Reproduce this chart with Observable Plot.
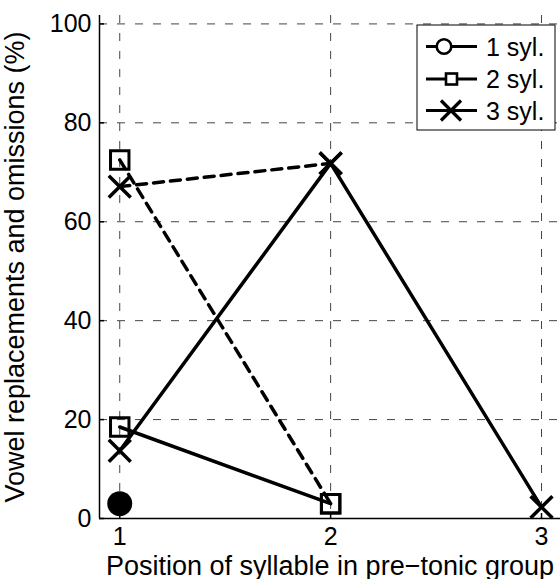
<!DOCTYPE html>
<html>
<head>
<meta charset="utf-8">
<script src="https://cdn.jsdelivr.net/npm/d3@7"></script>
<script src="https://cdn.jsdelivr.net/npm/@observablehq/plot@0.6"></script>
<style>
  html, body { margin: 0; padding: 0; background: white; }
  #wrap { position: relative; width: 560px; height: 579px; overflow: hidden; }
  #wrap svg { position: absolute; left: 0; top: 0; }
</style>
</head>
<body>
<div id="wrap"></div>
<script>
// ---- data ----
const positions = [1, 2, 3];
const syl1Points = [3];                 // 1 syl. (filled marker at position 1)
const syl2Solid = [18.5, 3];            // 2 syl., solid line
const syl2Dashed = [72.5, 3];           // 2 syl., dashed line
const syl3Solid = [13.7, 71.8, 2.3];    // 3 syl., solid line
const syl3Dashed = [67.1, 71.8];        // 3 syl., dashed line
const legendLabels = ["1 syl.", "2 syl.", "3 syl."];
const legendSymbols = ["circle", "square", "times"];
const xTicks = [1, 2, 3];
const yTicks = [0, 20, 40, 60, 80, 100];
const xLabel = "Position of syllable in pre\u2212tonic group";
const yLabel = "Vowel replacements and omissions (%)";

const toRows = (vals) => vals.map((v, i) => ({x: positions[i], y: v}));
const s1 = toRows(syl1Points);
const s2s = toRows(syl2Solid), s2d = toRows(syl2Dashed);
const s3s = toRows(syl3Solid), s3d = toRows(syl3Dashed);

const FONT = "'Liberation Sans', Arial, Helvetica, sans-serif";
const xDomain = [0.904, 3.09];
const yDomain = [0, 101.7];

const chart = Plot.plot({
  width: 560,
  height: 579,
  marginLeft: 99,
  marginRight: 0,
  marginTop: 15,
  marginBottom: 61,
  x: {domain: xDomain},
  y: {domain: yDomain},
  style: {fontFamily: FONT, fontSize: "25px", color: "black", background: "white", overflow: "visible"},
  marks: [
    Plot.gridX(xTicks, {stroke: "#444", strokeOpacity: 1, strokeWidth: 1, strokeDasharray: "8,10"}),
    Plot.gridY(yTicks, {stroke: "#444", strokeOpacity: 1, strokeWidth: 1, strokeDasharray: "8,10"}),
    Plot.ruleX([xDomain[0]], {stroke: "black", strokeWidth: 1.5}),
    Plot.ruleY([yDomain[0]], {stroke: "black", strokeWidth: 1.5}),
    Plot.axisX(xTicks, {tickSize: -5, tickPadding: 14, label: null, fontSize: 25, strokeWidth: 1.5, tickFormat: d3.format("d")}),
    Plot.axisY(yTicks, {tickSize: -5, tickPadding: 13, label: null, fontSize: 25, strokeWidth: 1.5, tickFormat: d3.format("d")}),
    Plot.text([xLabel], {frameAnchor: "bottom", lineAnchor: "middle", textAnchor: "middle", dy: 48, fontSize: 27, fill: "black"}),
    Plot.text([yLabel], {frameAnchor: "left", lineAnchor: "middle", textAnchor: "middle", rotate: -90, dx: -84, fontSize: 27, fill: "black"}),
    Plot.line(s2s, {x: "x", y: "y", stroke: "black", strokeWidth: 3.5}),
    Plot.line(s2d, {x: "x", y: "y", stroke: "black", strokeWidth: 3.5, strokeDasharray: "10,7"}),
    Plot.line(s3s, {x: "x", y: "y", stroke: "black", strokeWidth: 3.5}),
    Plot.line(s3d, {x: "x", y: "y", stroke: "black", strokeWidth: 3.5, strokeDasharray: "10,7"}),
    Plot.dot(s1, {x: "x", y: "y", symbol: "circle", r: 12.5, fill: "black", stroke: "none"}),
    Plot.dot([...s2s, ...s2d], {x: "x", y: "y", symbol: "square", r: 10.4, fill: "none", stroke: "black", strokeWidth: 3}),
    Plot.dot([...s3s, ...s3d], {x: "x", y: "y", symbol: "times", r: 10, stroke: "black", strokeWidth: 3.5})
  ]
});
const wrap = document.getElementById("wrap");
wrap.appendChild(chart);

// ---- legend overlay (inside the axes, top right) ----
const lg = d3.select(wrap).append("svg")
  .attr("width", 560).attr("height", 579)
  .style("pointer-events", "none");
const box = {x: 417, y: 25, w: 138, h: 105};
lg.append("rect").attr("x", box.x).attr("y", box.y).attr("width", box.w).attr("height", box.h)
  .attr("fill", "white").attr("stroke", "black").attr("stroke-width", 1);
const rowY = [46.5, 79, 110.5];
const markX = {circle: 444, square: 451.5, times: 451};
legendLabels.forEach((lab, i) => {
  const g = lg.append("g");
  const cy = rowY[i];
  g.append("line").attr("x1", 426).attr("x2", 477).attr("y1", cy).attr("y2", cy)
    .attr("stroke", "black").attr("stroke-width", 3);
  const sym = legendSymbols[i];
  const mx = markX[sym];
  if (sym === "circle") {
    g.append("circle").attr("cx", mx).attr("cy", cy).attr("r", 7.3)
      .attr("fill", "white").attr("stroke", "black").attr("stroke-width", 2.6);
  } else if (sym === "square") {
    g.append("rect").attr("x", mx - 5.5).attr("y", cy - 5.5).attr("width", 11).attr("height", 11)
      .attr("fill", "white").attr("stroke", "black").attr("stroke-width", 2.6);
  } else {
    const h = 10;
    g.append("path").attr("d", `M${mx - h},${cy - h}L${mx + h},${cy + h}M${mx - h},${cy + h}L${mx + h},${cy - h}`)
      .attr("stroke", "black").attr("stroke-width", 3.2).attr("fill", "none");
  }
  g.append("text").attr("x", 486).attr("y", cy + 9).text(lab)
    .attr("font-family", FONT).attr("font-size", 25).attr("fill", "black");
});
</script>
</body>
</html>
